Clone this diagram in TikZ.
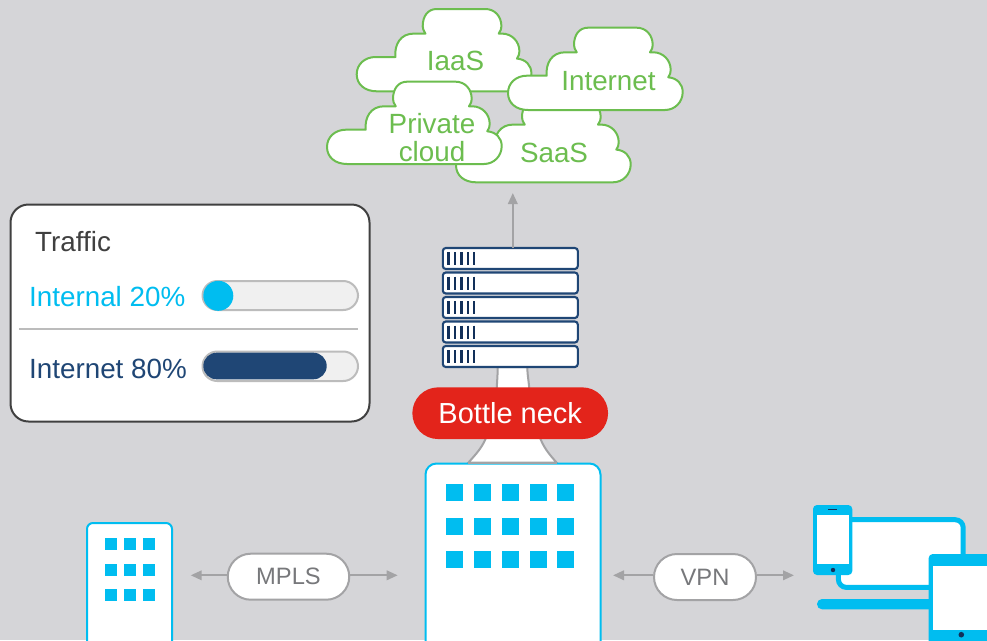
\documentclass[tikz,border=0pt]{standalone}
\usepackage{fontspec}
\setmainfont{Liberation Sans}
\usetikzlibrary{arrows.meta}
\definecolor{bgc}{HTML}{D5D5D8}
\definecolor{cgreen}{HTML}{6CBD4F}
\definecolor{ccyan}{HTML}{00BDF0}
\definecolor{cnavy}{HTML}{1F4675}
\definecolor{cdark}{HTML}{12305A}
\definecolor{cgrey}{HTML}{A3A3A5}
\definecolor{cred}{HTML}{E3241B}
\definecolor{ctrack}{HTML}{F0F0F0}
\definecolor{ctrackline}{HTML}{BCBCBC}
\definecolor{ctext}{HTML}{404040}
\definecolor{clabel}{HTML}{77787B}
\newcommand{\cloudpath}{
  (20,82) .. controls (8,82) and (0,75) .. (0,65) .. controls (0,55) and (8,47.7) .. (19,47.7)
  -- (38.7,47.7) .. controls (37.5,35) and (44,24.3) .. (57,24.3) -- (68.7,24.3)
  .. controls (66.8,21.5) and (66,19) .. (66,17) .. controls (66,7) and (71,-0.3) .. (80,-0.3) -- (128.7,-0.3)
  .. controls (138,-0.3) and (144.7,7) .. (144.7,17) .. controls (144.7,19) and (144,22) .. (142,24.3) -- (145.3,24.3)
  .. controls (155,24.3) and (162.7,32) .. (162.7,42) .. controls (162.7,44.5) and (162,47) .. (160.3,49.3)
  .. controls (169,50) and (174.7,56) .. (174.7,64)
  .. controls (174.7,74) and (167,82) .. (157,82) -- cycle}
\tikzset{
  x=1pt,y=-1pt,
  lbl/.style={inner sep=0pt,font=\fontsize{27.8}{32}\selectfont},
  cloudshape/.style={draw=cgreen,fill=white,line width=2pt,line join=round},
  rack/.style={draw=cnavy,fill=white,line width=2.1pt,rounded corners=3pt,minimum width=135pt,minimum height=21pt,inner sep=0pt},
  tick/.style={draw=cdark,line width=2.4pt},
  win/.style={fill=ccyan},
  tower/.style={draw=ccyan,fill=white,line width=2pt},
  flow/.style={draw=cgrey,line width=2pt,-{Triangle[length=11pt,width=9.5pt]}},
  tag/.style={draw=cgrey,fill=white,line width=2pt,rounded corners=23pt,minimum height=46pt,inner sep=0pt,text=clabel,font=\fontsize{23.7}{28}\selectfont},
  track/.style={draw=ctrackline,fill=ctrack,line width=2pt,rounded corners=14.8pt},
  device/.style={fill=ccyan,rounded corners=4pt},
  screen/.style={fill=white},
}
\begin{document}
\begin{tikzpicture}
\useasboundingbox (0,0) rectangle (987,640);
\clip (0,0) rectangle (987,640);
\fill[bgc] (0,0) rectangle (987,640);

% clouds
\begin{scope}[shift={(356.7,9.3)}] \draw[cloudshape] \cloudpath; \end{scope}
\node[lbl,text=cgreen] (iaas) at (455.5,61) {IaaS};
\begin{scope}[shift={(456,100.3)}] \draw[cloudshape] \cloudpath; \end{scope}
\node[lbl,text=cgreen] (saas) at (554,152.5) {SaaS};
\begin{scope}[shift={(508,28)}] \draw[cloudshape] \cloudpath; \end{scope}
\node[lbl,text=cgreen] (internet) at (608.5,81.5) {Internet};
\begin{scope}[shift={(327,82)}] \draw[cloudshape] \cloudpath; \end{scope}
\node[lbl,text=cgreen,align=center] (private) at (432,137.5) {Private\\[-3.5pt]cloud};

% neck
\draw[draw=cgrey,fill=white,line width=2pt]
  (497.7,367) .. controls (497.7,375) and (497,382) .. (496.5,392)
  -- (487,435) .. controls (483,447) and (476,454) .. (468.3,462.7)
  -- (556.7,462.7) .. controls (549,454) and (543,447) .. (539,435)
  -- (529.5,392) .. controls (529,382) and (527.3,375) .. (527.3,367) -- cycle;

% centre building
\draw[tower,rounded corners=11pt] (425.5,660) -- (425.5,463.5) -- (600.5,463.5) -- (600.5,660);
\draw[cgrey,line width=2pt] (468.3,462.7) -- (556.7,462.7);
\foreach \yy in {484,517.5,551} \foreach \xx in {446,474,502,529.5,557}
  \fill[win] (\xx,\yy) rectangle +(17,17.3);

% left building
\draw[tower,rounded corners=6pt] (87,660) -- (87,523) -- (172,523) -- (172,660);
\foreach \yy in {538,564,589} \foreach \xx in {105,124,143}
  \fill[win] (\xx,\yy) rectangle +(12,12);

% rack
\foreach \nm/\yy in {a/258.5,b/283,c/307.5,d/332,e/356.5} {
  \node[rack] (rack\nm) at (510.3,\yy) {};
  \foreach \xx in {448.5,454.9,461.3,467.7,474.1}
    \draw[tick] (\xx,\yy-6.5) -- (\xx,\yy+6.5);
}
\coordinate (cloudgate) at (512.8,193);
\draw[flow] (512.8,247.5) -- (cloudgate);

% bottle neck
\node[fill=cred,rounded corners=25.8pt,minimum width=195.7pt,minimum height=51.7pt,inner sep=0pt,text=white,font=\fontsize{29}{32}\selectfont] (neck) at (510.2,413.2) {Bottle neck};

% connectors
\node[tag,minimum width=121.5pt] (mpls) at (288.5,576.7) {MPLS};
\node[tag,minimum width=102pt] (vpn) at (705,577) {VPN};
\coordinate (mplsleft) at (190.7,575.3);
\coordinate (mplsright) at (397.7,575.3);
\coordinate (vpnleft) at (613,575.3);
\coordinate (vpnright) at (794,575.3);
\draw[flow] (mpls.west|-mplsleft) -- (mplsleft);
\draw[flow] (mpls.east|-mplsright) -- (mplsright);
\draw[flow] (vpn.west|-vpnleft) -- (vpnleft);
\draw[flow] (vpn.east|-vpnright) -- (vpnright);

% devices
\draw[ccyan,fill=white,line width=5pt,rounded corners=8pt] (838.4,519.7) rectangle (963.2,587.4);
\fill[ccyan,rounded corners=5pt] (817,599) rectangle (940,609.3);
\fill[device] (813,505) rectangle (852.3,575);
\fill[screen] (816.7,515) rectangle (849,564);
\draw[cdark,line width=0.8pt] (828,509.3) -- (837.3,509.3);
\fill[cdark] (833,570) circle (2.2pt);
\fill[device] (928.7,554) rectangle (1010,660);
\fill[screen] (933,566) rectangle (1000,630);
\fill[cdark] (961.3,634.7) circle (2.8pt);

% traffic card
\draw[draw=ctext,fill=white,line width=2pt,rounded corners=18pt] (10.5,204.5) rectangle (369.5,421.5);
\node[lbl,anchor=base west,text=ctext] (traffic) at (35,251) {Traffic};
\node[lbl,anchor=base west,text=ccyan] (internal) at (29,306) {Internal 20\%};
\node[lbl,anchor=base west,text=cnavy] (inet) at (29,378) {Internet 80\%};
\draw[ctrackline,line width=1.8pt] (19.3,328.7) -- (357.7,328.7);
\draw[track] (202.5,281) rectangle (358,310);
\fill[ccyan] (218.3,295.8) circle (15pt);
\draw[track] (202.5,351.5) rectangle (358,381);
\fill[cnavy,rounded corners=13.3pt] (203.3,352.7) rectangle (326.7,379.3);
\end{tikzpicture}
\end{document}
